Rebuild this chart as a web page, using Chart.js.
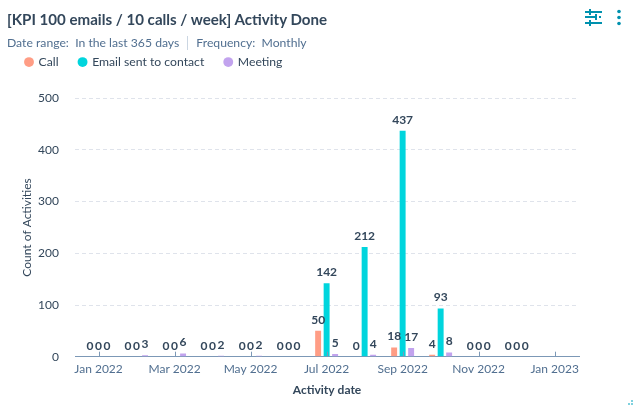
<!DOCTYPE html>
<html><head><meta charset="utf-8">
<script src="https://cdn.jsdelivr.net/npm/chart.js@4/dist/chart.umd.min.js"></script>
<style>
html,body{margin:0;padding:0;background:#fff;width:635px;height:408px;overflow:hidden;font-family:Lato,sans-serif}
#wrap{position:absolute;left:0;top:0;width:635px;height:408px}
#t{position:absolute;left:7px;top:10px;font-size:15.1px;font-weight:700;color:#33475b;white-space:nowrap}
#s{position:absolute;left:7px;top:35px;font-size:12.2px;color:#516f90;white-space:nowrap}
#s i{display:inline-block;width:1px;height:14px;background:#cbd6e2;margin:0 8px;vertical-align:-3px}
svg{position:absolute}
</style></head><body><div id="wrap">
<canvas id="c" width="635" height="408" style="position:absolute;left:0;top:0"></canvas>
<div id="t">[KPI 100 emails / 10 calls / week] Activity Done</div>
<div id="s">Date range:&nbsp; In the last 365 days<i></i>Frequency:&nbsp; Monthly</div>
<svg style="left:584px;top:8px" width="40" height="20" fill="#0091ae">
<rect x="1" y="3" width="17" height="2"/><rect x="5" y="1" width="2" height="6"/>
<rect x="1" y="8" width="12" height="2"/><rect x="11" y="6" width="2" height="6"/><rect x="15" y="8" width="2" height="2"/>
<rect x="1" y="14" width="17" height="2"/><rect x="5" y="12" width="2" height="6"/>
<circle cx="35" cy="3.5" r="1.8"/><circle cx="35" cy="9.5" r="1.8"/><circle cx="35" cy="15.5" r="1.8"/></svg>
<svg style="left:626px;top:398px" width="9" height="9" fill="#7fd1de"><rect x="5" y="2" width="2" height="2"/><rect x="5" y="5" width="2" height="2"/><rect x="2" y="5" width="2" height="2"/></svg>
</div>
<script>
const seriesNames = ["Call","Email sent to contact","Meeting"];
const call =    [0,0,0,0,0,0,50,0,18,4,0,0];
const email =   [0,0,0,0,0,0,142,212,437,93,0,0];
const meeting = [0,3,6,2,2,0,5,4,17,8,0,0];
const xTickLabels = ["Jan 2022","Mar 2022","May 2022","Jul 2022","Sep 2022","Nov 2022","Jan 2023"];
const colors = ["#ff9d85","#00d5dd","#c2a3ee"];
const pts = a => a.map((y,x)=>({x,y}));
const valueLabels = {id:'valueLabels',afterDatasetsDraw(ch){
  const g=ch.ctx; g.save();
  g.font='700 12px Lato'; g.fillStyle='#33475b'; g.textAlign='center'; g.textBaseline='bottom';
  ch.data.datasets.forEach((d,i)=>ch.getDatasetMeta(i).data.forEach((el,j)=>{
    g.fillText(String(d.data[j].y),el.x,el.y-5);
  }));
  g.restore();
}};
const upTicks = {id:'upTicks',afterDraw(ch){
  const s=ch.scales.x,g=ch.ctx; g.save(); g.strokeStyle='#7c98b6'; g.lineWidth=1;
  s.ticks.forEach(t=>{const x=Math.round(s.getPixelForValue(t.value))+.5; g.beginPath(); g.moveTo(x,s.top); g.lineTo(x,s.top-5); g.stroke();});
  g.restore();
}};
const legendGap = {id:'legendGap',beforeInit(ch){
  const fit=ch.legend.fit; ch.legend.fit=function(){fit.call(this); this.height+=20;};
}};
new Chart(document.getElementById('c'),{
  type:'bar',
  data:{datasets:[call,email,meeting].map((a,i)=>({label:seriesNames[i],data:pts(a),backgroundColor:colors[i],categoryPercentage:0.67,barPercentage:0.7}))},
  plugins:[legendGap,valueLabels,upTicks],
  options:{responsive:false,animation:false,devicePixelRatio:1,
    layout:{padding:{left:5,right:56,top:35.5,bottom:11}},
    plugins:{tooltip:{enabled:false},title:{display:false},
      legend:{position:'top',align:'start',
        labels:{usePointStyle:true,pointStyle:'circle',boxWidth:7,boxHeight:7,padding:20.5,color:'#33475b',font:{family:'Lato',size:12.2}}}},
    scales:{
      x:{type:'linear',min:-0.62,max:12.64,offset:false,
        grid:{display:false,tickLength:0},border:{color:'#7c98b6'},
        ticks:{stepSize:2,includeBounds:false,autoSkip:false,maxRotation:0,padding:5,color:'#516f90',font:{family:'Lato',size:12},callback:v=>xTickLabels[v/2]},
        title:{display:true,text:'Activity date',color:'#33475b',font:{family:'Lato',size:12,weight:'700'},padding:{top:1.5,bottom:0}}},
      y:{min:0,max:500,afterFit(s){s.width=70;},
        grid:{color:'#dfe3eb',dash:[4,3],drawTicks:false},border:{display:false,dash:[4,3]},
        ticks:{stepSize:100,padding:16,color:'#33475b',font:{family:'Lato',size:12}},
        title:{display:true,text:'Count of Activities',color:'#33475b',font:{family:'Lato',size:12},padding:{top:15,bottom:0}}}
    }
  }
});
</script></body></html>
